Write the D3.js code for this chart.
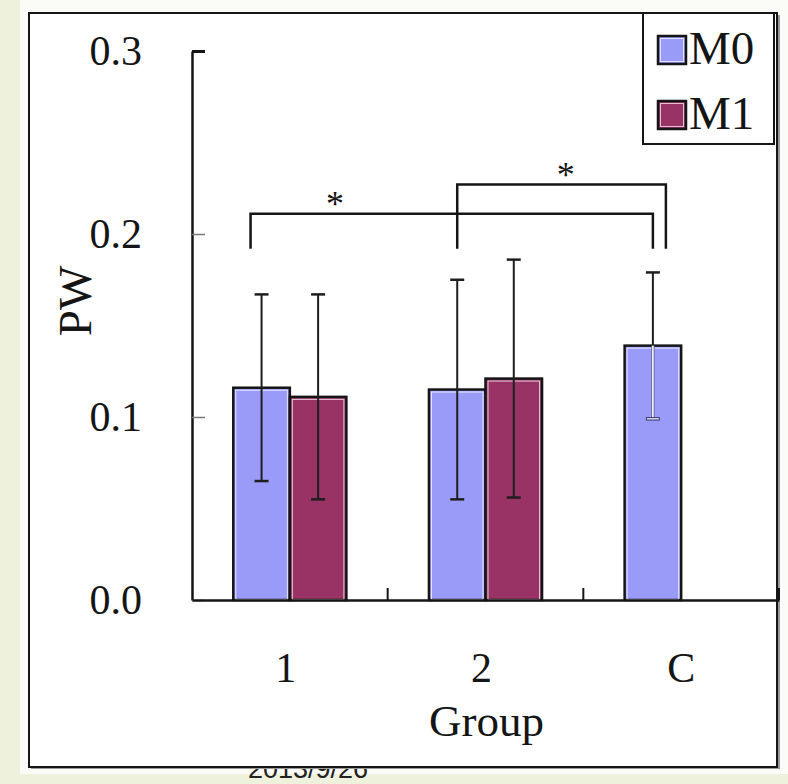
<!DOCTYPE html>
<html>
<head>
<meta charset="utf-8">
<script src="https://cdn.jsdelivr.net/npm/d3@7"></script>
<style>
  html, body { margin: 0; padding: 0; background: #eef1dc; }
  svg { display: block; }
</style>
</head>
<body>
<script>
// ---- data ----
const groups = ["1", "2", "C"];
const seriesNames = ["M0", "M1"];
const m0Values = [0.116, 0.115, 0.139];
const m0Errors = [0.051, 0.060, 0.040];
const m1Values = [0.111, 0.121, null];
const m1Errors = [0.056, 0.065, null];
const yTicks = [0.0, 0.1, 0.2, 0.3];
const xTitle = "Group";
const yTitle = "PW";
const footerText = "2013/9/26";
// significance brackets between bars (top level, leg bottom, star)
const brackets = [
  { from: ["1", "M0"], to: ["C", "M0"], level: 0.211, base: 0.192, label: "*", at: 0.21 },
  { from: ["2", "M0"], to: ["C", "M0"], level: 0.227, base: 0.192, label: "*", at: 0.52 }
];

// ---- layout ----
const W = 788, H = 784;
const serif = "'Liberation Serif', 'Times New Roman', serif";
const ink = "#151515";
const colors = { M0: "#9a9af8", M1: "#993366" };

const svg = d3.select("body").append("svg")
  .attr("width", W).attr("height", H)
  .attr("viewBox", `0 0 ${W} ${H}`);

// slide page
svg.append("rect").attr("x", 0).attr("y", 0).attr("width", W).attr("height", H).attr("fill", "#eef1dc");
svg.append("rect").attr("x", 20).attr("y", 0).attr("width", W - 20).attr("height", 774).attr("fill", "#fbfbf7");

// date footer, partly tucked under the chart frame
svg.append("text")
  .attr("x", 308).attr("y", 778)
  .attr("text-anchor", "middle")
  .attr("font-family", "'Liberation Sans', Arial, sans-serif")
  .attr("font-size", 27)
  .attr("fill", "#222")
  .text(footerText);

// chart frame
svg.append("rect").attr("x", 31).attr("y", 15).attr("width", 749).attr("height", 754).attr("fill", "#9a9a9a");
svg.append("rect").attr("x", 29).attr("y", 13).attr("width", 748).attr("height", 754)
  .attr("fill", "#ffffff").attr("stroke", ink).attr("stroke-width", 2);

// scales
const x = d3.scaleBand().domain(groups).range([192, 779]).paddingInner(0).paddingOuter(0);
const xs = d3.scaleBand().domain(seriesNames).range([0, x.bandwidth()]).paddingInner(0).paddingOuter(0.73);
const y = d3.scaleLinear().domain([0, 0.3]).range([600, 51]);

const rows = [];
groups.forEach((g, i) => {
  rows.push({ group: g, series: "M0", value: m0Values[i], err: m0Errors[i] });
  if (m1Values[i] != null) rows.push({ group: g, series: "M1", value: m1Values[i], err: m1Errors[i] });
});
const cx = (g, s) => x(g) + xs(s) + xs.bandwidth() / 2;

// bars
const bars = svg.append("g");
rows.forEach(d => {
  const x0 = x(d.group) + xs(d.series), bw = xs.bandwidth();
  const y0 = y(d.value), h = y(0) - y0;
  bars.append("rect").attr("x", x0).attr("y", y0).attr("width", bw).attr("height", h)
    .attr("fill", colors[d.series]).attr("stroke", ink).attr("stroke-width", 2.5);
  bars.append("rect").attr("x", x0 + 2.5).attr("y", y0 + 2.5).attr("width", bw - 5).attr("height", h - 3)
    .attr("fill", "none").attr("stroke", "#ffffff").attr("stroke-opacity", 0.75).attr("stroke-width", 1);
});

// error bars
const errs = svg.append("g");
rows.forEach(d => {
  const c = cx(d.group, d.series);
  const top = y(d.value + d.err), bot = y(d.value - d.err), mid = y(d.value);
  const cap = 7;
  const lightInside = d.group === "C";
  errs.append("line").attr("x1", c).attr("x2", c).attr("y1", top).attr("y2", lightInside ? mid : bot)
    .attr("stroke", "#1e1e1e").attr("stroke-width", 2);
  errs.append("line").attr("x1", c - cap).attr("x2", c + cap).attr("y1", top).attr("y2", top)
    .attr("stroke", "#1e1e1e").attr("stroke-width", 2.5);
  if (lightInside) {
    errs.append("line").attr("x1", c).attr("x2", c).attr("y1", mid).attr("y2", bot)
      .attr("stroke", "#6a6a9a").attr("stroke-width", 3.5);
    errs.append("line").attr("x1", c).attr("x2", c).attr("y1", mid).attr("y2", bot)
      .attr("stroke", "#ffffff").attr("stroke-width", 1.5);
    errs.append("line").attr("x1", c - cap).attr("x2", c + cap).attr("y1", bot).attr("y2", bot)
      .attr("stroke", "#3a3a7a").attr("stroke-width", 3.5);
    errs.append("line").attr("x1", c - cap + 1).attr("x2", c + cap - 1).attr("y1", bot).attr("y2", bot)
      .attr("stroke", "#ffffff").attr("stroke-width", 1.2);
  } else {
    errs.append("line").attr("x1", c - cap).attr("x2", c + cap).attr("y1", bot).attr("y2", bot)
      .attr("stroke", "#1e1e1e").attr("stroke-width", 2.5);
  }
});

// y axis with inward ticks
const yAxis = svg.append("g").attr("transform", "translate(192,0)")
  .call(d3.axisLeft(y).tickValues(yTicks).tickFormat(d3.format(".1f"))
    .tickSizeInner(-13).tickSizeOuter(0).tickPadding(50));
yAxis.select(".domain").attr("stroke", ink).attr("stroke-width", 2.5);
yAxis.selectAll(".tick line")
  .attr("stroke", d => d === 0.3 ? ink : "#777")
  .attr("stroke-width", d => d === 0.3 ? 3 : 1.5);
yAxis.selectAll(".tick text")
  .attr("font-family", serif).attr("font-size", 42).attr("fill", ink);

// x axis: baseline, boundary ticks, category labels
const xAxis = svg.append("g").attr("transform", "translate(0,600)")
  .call(d3.axisBottom(x).tickSize(0).tickPadding(52));
xAxis.select(".domain").attr("stroke", ink).attr("stroke-width", 2.5);
xAxis.selectAll(".tick text")
  .attr("font-family", serif).attr("font-size", 42).attr("fill", ink)
  .attr("dx", (d, i) => i < 2 ? -4 : 0);
const bounds = groups.slice(1).map(g => x(g)).concat([x.range()[1]]);
xAxis.selectAll(".bound").data(bounds).enter().append("line")
  .attr("x1", d => d).attr("x2", d => d).attr("y1", 0).attr("y2", -12)
  .attr("stroke", ink).attr("stroke-width", 2);

// axis titles
svg.append("text").attr("x", x.range()[0] + (x.range()[1] - x.range()[0]) / 2 + 1).attr("y", 736)
  .attr("text-anchor", "middle").attr("font-family", serif).attr("font-size", 45).attr("fill", ink)
  .text(xTitle);
svg.append("text").attr("transform", "translate(75,301) rotate(-90)")
  .attr("text-anchor", "middle").attr("dominant-baseline", "central")
  .attr("font-family", serif).attr("font-size", 47).attr("fill", ink)
  .text(yTitle);

// significance brackets
const legNudge = [[-11, 0], [0, 13]];
const br = svg.append("g");
brackets.forEach((b, i) => {
  const xa = cx(b.from[0], b.from[1]) + legNudge[i][0];
  const xb = cx(b.to[0], b.to[1]) + legNudge[i][1];
  const yl = y(b.level), yb = y(b.base);
  br.append("path").attr("d", `M${xa},${yb}V${yl}H${xb}V${yb}`)
    .attr("fill", "none").attr("stroke", ink).attr("stroke-width", 2.5);
  br.append("text").attr("x", xa + (xb - xa) * b.at).attr("y", yl + 2)
    .attr("text-anchor", "middle").attr("font-family", serif).attr("font-size", 36).attr("fill", ink)
    .text(b.label);
});

// legend
const lg = svg.append("g");
lg.append("rect").attr("x", 643).attr("y", 13).attr("width", 131).attr("height", 131)
  .attr("fill", "#ffffff").attr("stroke", ink).attr("stroke-width", 2);
seriesNames.forEach((s, i) => {
  const yy = 36 + i * 65;
  lg.append("rect").attr("x", 658).attr("y", yy).attr("width", 28).attr("height", 28)
    .attr("fill", colors[s]).attr("stroke", ink).attr("stroke-width", 2.5);
  lg.append("rect").attr("x", 660.5).attr("y", yy + 2.5).attr("width", 23).attr("height", 23)
    .attr("fill", "none").attr("stroke", "#ffffff").attr("stroke-opacity", 0.7).attr("stroke-width", 1);
  lg.append("text").attr("x", 689).attr("y", yy + 28)
    .attr("font-family", serif).attr("font-size", 47).attr("fill", ink)
    .text(s);
});
</script>
</body>
</html>
